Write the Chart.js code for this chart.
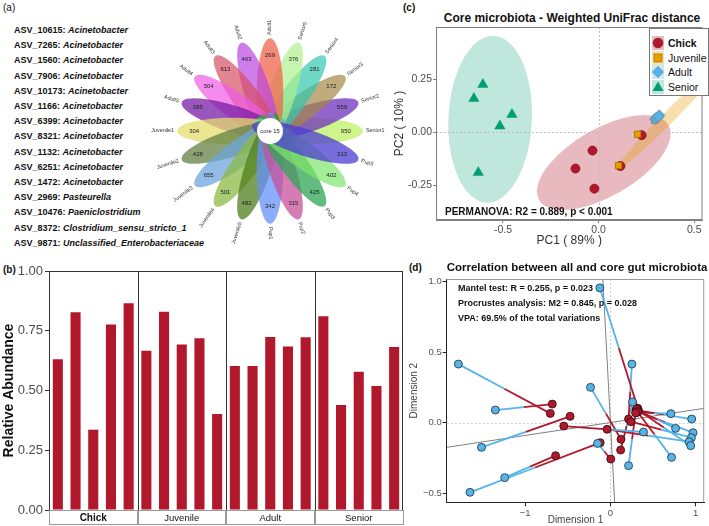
<!DOCTYPE html>
<html lang="en">
<head>
<meta charset="UTF-8">
<title>Core gut microbiota</title>
<script src="https://cdn.jsdelivr.net/npm/chart.js"></script>
<style>
  body { margin: 0; background: #fff; font-family: "Liberation Sans", Arial, sans-serif; }
  #page { position: relative; width: 709px; height: 526px; overflow: hidden; background: #fff; }
  .box { position: absolute; }
  .tag { position: absolute; font-size: 10px; color: #111; line-height: 12px; }
  #asv { position: absolute; left: 14px; top: 23px; font-size: 9px; font-weight: bold; line-height: 15.2px; color: #111; white-space: nowrap; }
  .ptitle { position: absolute; font-weight: bold; color: #111; white-space: nowrap; text-align: center; }
  .note { position: absolute; font-weight: bold; color: #111; white-space: nowrap; }
</style>
</head>
<body>
<div id="page">
  <div class="tag" style="left:3px;top:2px;">(a)</div>
  <div class="tag" style="left:3px;top:264px;font-weight:bold;">(b)</div>
  <div class="tag" style="left:403px;top:2px;font-weight:bold;">(c)</div>
  <div class="tag" style="left:409px;top:262px;font-weight:bold;">(d)</div>

  <div id="asv"></div>

  <div class="box" style="left:140px;top:1px;width:260px;height:260px;"><canvas id="flower" width="260" height="260"></canvas></div>
  <div class="box" style="left:0;top:255px;width:405px;height:271px;"><canvas id="bars" width="405" height="271"></canvas></div>

  <div class="ptitle" style="left:430px;top:11px;width:284px;font-size:12px;">Core microbiota - Weighted UniFrac distance</div>
  <div class="box" style="left:390px;top:0;width:319px;height:250px;"><canvas id="pcoa" width="319" height="250"></canvas></div>
  <svg class="box" style="left:649px;top:28px;" width="60" height="68">
    <rect x="0.5" y="0.5" width="59" height="67" fill="#fff" stroke="#777" stroke-width="1"/>
    <rect x="3" y="8" width="12" height="14" fill="rgba(178,24,43,0.3)"/>
    <circle cx="9" cy="15" r="4.8" fill="#b2182b" stroke="#8a0f1f" stroke-width="0.8"/>
    <text x="19" y="18.5" font-size="10.5" font-weight="bold" fill="#111">Chick</text>
    <rect x="3" y="23" width="12" height="14" fill="rgba(230,159,0,0.3)"/>
    <rect x="5" y="26" width="8" height="8" fill="#e69f00" stroke="#a86f00" stroke-width="0.8"/>
    <text x="19" y="33.5" font-size="10.5" fill="#111">Juvenile</text>
    <rect x="3" y="37" width="12" height="14" fill="rgba(86,180,233,0.3)"/>
    <polygon points="9,38.5 14.5,44 9,49.5 3.5,44" fill="#56b4e9" stroke="#4a8fb8" stroke-width="0.8"/>
    <text x="19" y="47.5" font-size="10.5" fill="#111">Adult</text>
    <rect x="3" y="52" width="12" height="14" fill="rgba(0,158,115,0.25)"/>
    <polygon points="9,53.5 14.5,63 3.5,63" fill="#009e73"/>
    <text x="19" y="62.5" font-size="10.5" fill="#111">Senior</text>
  </svg>
  <div class="note" style="left:445px;top:206px;font-size:10px;">PERMANOVA: R2 = 0.889, p &lt; 0.001</div>

  <div class="ptitle" style="left:440px;top:261px;width:274px;font-size:11.5px;">Correlation between all and core gut microbiota</div>
  <div class="box" style="left:400px;top:255px;width:309px;height:271px;"><canvas id="procrustes" width="309" height="271"></canvas></div>
  <div class="note" style="left:458px;top:283px;font-size:9px;">Mantel test: R = 0.255, p = 0.023</div>
  <div class="note" style="left:458px;top:298px;font-size:9px;">Procrustes analysis: M2 = 0.845, p = 0.028</div>
  <div class="note" style="left:458px;top:313px;font-size:9px;">VPA: 69.5% of the total variations</div>
</div>

<script>
// ---- (a) core ASVs and flower plot ----
const asvIds = ['ASV_10615', 'ASV_7265', 'ASV_1560', 'ASV_7906', 'ASV_10173', 'ASV_1166', 'ASV_6399', 'ASV_8321',
                'ASV_1132', 'ASV_6251', 'ASV_1472', 'ASV_2969', 'ASV_10476', 'ASV_8372', 'ASV_9871'];
const asvGenus = ['Acinetobacter', 'Acinetobacter', 'Acinetobacter', 'Acinetobacter', 'Acinetobacter', 'Acinetobacter',
                  'Acinetobacter', 'Acinetobacter', 'Acinetobacter', 'Acinetobacter', 'Acinetobacter', 'Pasteurella',
                  'Paeniclostridium', 'Clostridium_sensu_stricto_1', 'Unclassified_Enterobacteriaceae'];

const flowerSamples = ['Senior1', 'Senior2', 'Senior3', 'Senior4', 'Senior5', 'Adult1', 'Adult2', 'Adult3', 'Adult4', 'Adult5',
                       'Juvenile1', 'Juvenile2', 'Juvenile3', 'Juvenile4', 'Juvenile5', 'Pup1', 'Pup2', 'Pup3', 'Pup4', 'Pup5'];
const flowerCounts = [950, 559, 172, 281, 376, 269, 463, 613, 504, 385, 304, 428, 655, 501, 482, 342, 315, 425, 402, 313];
const coreCount = 15;
const petalColors = ['rgba(190,240,100,0.75)', 'rgba(110,50,190,0.75)', 'rgba(165,135,70,0.7)', 'rgba(50,200,175,0.7)',
                     'rgba(175,240,140,0.7)', 'rgba(240,100,75,0.75)', 'rgba(185,70,225,0.7)', 'rgba(215,80,100,0.7)',
                     'rgba(240,90,230,0.7)', 'rgba(120,30,165,0.75)', 'rgba(230,220,110,0.75)', 'rgba(100,130,70,0.75)',
                     'rgba(110,165,220,0.75)', 'rgba(140,185,70,0.75)', 'rgba(80,125,30,0.75)', 'rgba(100,145,250,0.75)',
                     'rgba(200,80,155,0.75)', 'rgba(45,165,85,0.75)', 'rgba(125,230,105,0.7)', 'rgba(75,60,210,0.75)'];

// ---- (b) relative abundance of core ASVs ----
const stageGroups = ['Chick', 'Juvenile', 'Adult', 'Senior'];
const chickAbund = [0.631, 0.827, 0.336, 0.776, 0.865];
const juvenileAbund = [0.666, 0.829, 0.692, 0.719, 0.402];
const adultAbund = [0.603, 0.602, 0.724, 0.684, 0.723];
const seniorAbund = [0.811, 0.439, 0.578, 0.519, 0.682];
const abundTicks = [0, 0.25, 0.5, 0.75, 1];

// ---- (c) PCoA ----
const chickPC = [[-0.121, -0.171], [-0.032, -0.086], [-0.022, -0.266], [0.114, -0.159], [0.225, -0.013]];
const juvenilePC = [[0.104, -0.157], [0.204, -0.009], [0.293, 0.058], [0.300, 0.065], [0.305, 0.070]];
const adultPC = [[0.295, 0.062], [0.300, 0.068], [0.310, 0.072], [0.318, 0.080], [0.313, 0.077]];
const seniorPC = [[-0.605, 0.226], [-0.652, 0.160], [-0.453, 0.085], [-0.516, 0.030], [-0.629, -0.190]];
// ellipse: centre, end of the long axis, short/long ratio
const chickEllipse = [[0.027, -0.142], [0.365, 0.035], 0.45];
const juvenileEllipse = [[0.37, 0.075], [0.65, 0.33], 0.08];
const adultEllipse = [[0.31, 0.07], [0.335, 0.085], 0.6];
const seniorEllipse = [[-0.567, 0.062], [-0.548, 0.456], 0.5];
const pc1Ticks = [-0.5, 0, 0.5];
const pc2Ticks = [-0.25, 0, 0.25];

// ---- (d) Procrustes ----
const allConfig = [[-0.705, 0.066], [-0.682, 0.132], [-0.473, 0.045], [-0.643, -0.234], [-0.120, -0.142],
                   [-0.547, -0.024], [0.322, 0.102], [0.213, 0.026], [0.124, -0.118], [0.314, 0.073],
                   [0.300, 0.090], [0.330, 0.085], [0.305, 0.080], [0.240, 0.007], [-0.039, -0.047],
                   [0.310, 0.095], [0.318, 0.078], [0.120, -0.194], [0.004, -0.258], [0.295, 0.070]];
const coreConfig = [[-1.783, 0.416], [-1.349, 0.090], [-1.512, -0.175], [-1.240, -0.390], [-1.647, -0.494],
                    [0.388, -0.066], [-0.124, 0.957], [0.252, 0.416], [-0.233, 0.251], [0.709, 0.064],
                    [0.953, 0.026], [0.764, -0.040], [0.969, -0.071], [0.950, -0.106], [0.922, -0.135],
                    [0.942, -0.163], [0.717, -0.246], [0.260, 0.147], [-0.151, -0.147], [0.213, -0.305]];
const rotationAxes = [[[-0.089, 1.02], [0.05, -0.565]], [[-1.92, -0.175], [1.10, 0.102]]];
const dim1Ticks = [-1, 0, 1];
const dim2Ticks = [-0.5, 0, 0.5, 1];

const FONT = '"Liberation Sans", Arial, sans-serif';
Chart.defaults.font.family = FONT;
Chart.defaults.animation = false;
Chart.defaults.plugins.legend.display = false;
Chart.defaults.plugins.tooltip.enabled = false;

document.getElementById('asv').innerHTML = asvIds.map((id, i) => id + ': <i>' + asvGenus[i] + '</i>').join('<br>');

const pts = arr => arr.map(p => ({ x: p[0], y: p[1] }));
const fixedTicks = list => s => { s.ticks = list.map(v => ({ value: v })); };

// flower: petals placed through the chart's own x/y scales
const flowerPlugin = {
  id: 'flower',
  afterDatasetsDraw(chart) {
    const { ctx, scales: { x, y } } = chart;
    const unit = x.getPixelForValue(1) - x.getPixelForValue(0);
    const n = flowerSamples.length;
    const at = (r, th) => [x.getPixelForValue(r * Math.cos(th)), y.getPixelForValue(r * Math.sin(th))];
    ctx.save();
    flowerSamples.forEach((s, i) => {
      const th = i * 2 * Math.PI / n;
      const [cx, cy] = at(1.2, th);
      ctx.fillStyle = petalColors[i];
      ctx.beginPath();
      ctx.ellipse(cx, cy, 1.8 * unit, 0.43 * unit, -th, 0, 2 * Math.PI);
      ctx.fill();
    });
    ctx.fillStyle = '#fff';
    ctx.beginPath();
    ctx.arc(x.getPixelForValue(0), y.getPixelForValue(0), 0.42 * unit, 0, 2 * Math.PI);
    ctx.fill();
    ctx.fillStyle = '#222';
    ctx.textAlign = 'center';
    ctx.textBaseline = 'middle';
    ctx.font = '5.8px ' + FONT;
    ctx.fillText('core ' + coreCount, x.getPixelForValue(0), y.getPixelForValue(0));
    ctx.font = '6px ' + FONT;
    flowerCounts.forEach((c, i) => {
      const [px, py] = at(2.45, i * 2 * Math.PI / n);
      ctx.fillText(String(c), px, py);
    });
    ctx.font = '5.4px ' + FONT;
    ctx.fillStyle = '#333';
    flowerSamples.forEach((s, i) => {
      let deg = i * 360 / n;
      if (deg > 180) deg -= 360;
      const th = deg * Math.PI / 180;
      const [px, py] = at(3.1, th);
      ctx.save();
      ctx.translate(px, py);
      if (deg > -90 - 1e-6 && deg <= 90 + 1e-6) {
        ctx.rotate(-th);
        ctx.textAlign = 'left';
      } else {
        ctx.rotate(Math.PI - th);
        ctx.textAlign = 'right';
      }
      ctx.fillText(s, 0, 0);
      ctx.restore();
    });
    ctx.restore();
  }
};

new Chart(document.getElementById('flower'), {
  type: 'scatter',
  data: { datasets: [] },
  options: {
    responsive: false, devicePixelRatio: 1, events: [],
    layout: { padding: 0 },
    scales: { x: { display: false, min: -4.2, max: 4.2 }, y: { display: false, min: -4.2, max: 4.2 } }
  },
  plugins: [flowerPlugin]
});

// ---- bar chart with facet strips ----
const groupAbund = [chickAbund, juvenileAbund, adultAbund, seniorAbund];
const barLabels = stageGroups.flatMap((g, gi) => groupAbund[gi].map((v, k) => g + (k + 1)));
const barValues = groupAbund.flat();

const facetPlugin = {
  id: 'facets',
  afterDraw(chart) {
    const { ctx, chartArea: a, scales: { x } } = chart;
    const step = x.getPixelForValue(1) - x.getPixelForValue(0);
    ctx.save();
    ctx.strokeStyle = '#333';
    ctx.lineWidth = 1;
    ctx.strokeRect(a.left + 0.5, a.top + 0.5, a.width - 1, a.height);
    let start = 0;
    stageGroups.forEach((g, gi) => {
      const n = groupAbund[gi].length;
      const x0 = x.getPixelForValue(start) - step / 2;
      const x1 = x.getPixelForValue(start + n - 1) + step / 2;
      if (gi > 0) {
        ctx.strokeStyle = '#333';
        ctx.beginPath(); ctx.moveTo(Math.round(x0) + 0.5, a.top); ctx.lineTo(Math.round(x0) + 0.5, a.bottom); ctx.stroke();
      }
      ctx.strokeStyle = '#999';
      ctx.strokeRect(Math.round(x0) + 0.5, a.bottom + 0.5, Math.round(x1 - x0) - 1, 14);
      ctx.fillStyle = '#111';
      ctx.font = (gi === 0 ? 'bold 10px ' : '9.5px ') + FONT;
      ctx.textAlign = 'center';
      ctx.textBaseline = 'middle';
      ctx.fillText(g, (x0 + x1) / 2, a.bottom + 8);
      start += n;
    });
    ctx.restore();
  }
};

new Chart(document.getElementById('bars'), {
  type: 'bar',
  data: {
    labels: barLabels,
    datasets: [{ data: barValues, backgroundColor: '#b2182b', barPercentage: 0.57, categoryPercentage: 1 }]
  },
  options: {
    responsive: false, devicePixelRatio: 1, events: [],
    layout: { padding: { top: 16, right: 2, left: 0, bottom: 0 } },
    scales: {
      x: {
        offset: true,
        grid: { display: false }, border: { display: false }, ticks: { display: false },
        afterFit: s => { s.height = 16; }
      },
      y: {
        min: 0, max: 1,
        afterBuildTicks: fixedTicks(abundTicks),
        ticks: { callback: v => v.toFixed(2), font: { size: 13 }, color: '#4d4d4d', padding: 2 },
        grid: { drawOnChartArea: false, tickLength: 4, tickColor: '#333' },
        border: { color: '#333' },
        title: { display: true, text: 'Relative Abundance', font: { size: 14, weight: 'bold' }, color: '#111', padding: { top: 1, bottom: 0 } },
        afterFit: s => { s.width = 49; }
      }
    }
  },
  plugins: [facetPlugin]
});

// ---- PCoA with group ellipses ----
const ellipses = [
  { e: chickEllipse, fill: 'rgba(178,24,43,0.3)' },
  { e: juvenileEllipse, fill: 'rgba(230,159,0,0.32)' },
  { e: adultEllipse, fill: 'rgba(86,180,233,0.35)' },
  { e: seniorEllipse, fill: 'rgba(0,158,115,0.25)' }
];

const pcoaPlugin = {
  id: 'pcoaDecor',
  beforeDatasetsDraw(chart) {
    const { ctx, chartArea: a, scales: { x, y } } = chart;
    ctx.save();
    ctx.beginPath(); ctx.rect(a.left, a.top, a.width, a.height); ctx.clip();
    ellipses.forEach(({ e, fill }) => {
      const cx = x.getPixelForValue(e[0][0]), cy = y.getPixelForValue(e[0][1]);
      const ex = x.getPixelForValue(e[1][0]), ey = y.getPixelForValue(e[1][1]);
      const r = Math.hypot(ex - cx, ey - cy);
      ctx.fillStyle = fill;
      ctx.beginPath();
      ctx.ellipse(cx, cy, r, r * e[2], Math.atan2(ey - cy, ex - cx), 0, 2 * Math.PI);
      ctx.fill();
    });
    const x0 = Math.round(x.getPixelForValue(0)) + 0.5, y0 = Math.round(y.getPixelForValue(0)) + 0.5;
    ctx.strokeStyle = '#bdbdbd';
    ctx.setLineDash([2, 2]);
    ctx.lineWidth = 1;
    ctx.beginPath();
    ctx.moveTo(x0, a.top); ctx.lineTo(x0, a.bottom);
    ctx.moveTo(a.left, y0); ctx.lineTo(a.right, y0);
    ctx.stroke();
    ctx.restore();
  },
  afterDraw(chart) {
    const { ctx, chartArea: a } = chart;
    ctx.save();
    ctx.strokeStyle = '#7f7f7f';
    ctx.lineWidth = 1;
    ctx.strokeRect(a.left + 0.5, a.top + 0.5, a.width - 1, a.height - 1);
    ctx.restore();
  }
};

new Chart(document.getElementById('pcoa'), {
  type: 'scatter',
  data: {
    datasets: [
      { label: 'Adult', data: pts(adultPC), pointStyle: 'rectRot', pointRadius: 5.5, backgroundColor: '#56b4e9', borderColor: '#6d8fa3', borderWidth: 0.8 },
      { label: 'Juvenile', data: pts(juvenilePC), pointStyle: 'rect', pointRadius: 4.5, backgroundColor: '#e69f00', borderColor: '#a86f00', borderWidth: 0.8 },
      { label: 'Chick', data: pts(chickPC), pointStyle: 'circle', pointRadius: 4.5, backgroundColor: '#b2182b', borderColor: '#8a0f1f', borderWidth: 0.8 },
      { label: 'Senior', data: pts(seniorPC), pointStyle: 'triangle', pointRadius: 6, backgroundColor: '#009e73', borderColor: '#009e73', borderWidth: 0.5 }
    ]
  },
  options: {
    responsive: false, devicePixelRatio: 1, events: [],
    layout: { padding: { top: 27, right: 1, left: 0, bottom: 0 } },
    scales: {
      x: {
        min: -0.85, max: 0.543,
        afterBuildTicks: fixedTicks(pc1Ticks),
        ticks: { callback: v => v.toFixed(1), font: { size: 10.5 }, color: '#4d4d4d', padding: 1 },
        grid: { drawOnChartArea: false, tickLength: 3, tickColor: '#7f7f7f' },
        border: { color: '#7f7f7f' },
        title: { display: true, text: 'PC1 ( 89% )', font: { size: 12 }, color: '#333', padding: { top: 0, bottom: 2 } },
        afterFit: s => { s.height = 30; s.paddingLeft = 0; s.paddingRight = 0; }
      },
      y: {
        min: -0.414, max: 0.498,
        afterBuildTicks: fixedTicks(pc2Ticks),
        ticks: { callback: v => v.toFixed(2), font: { size: 10.5 }, color: '#4d4d4d', padding: 1 },
        grid: { drawOnChartArea: false, tickLength: 3, tickColor: '#7f7f7f' },
        border: { color: '#7f7f7f' },
        title: { display: true, text: 'PC2 ( 10% )', font: { size: 12 }, color: '#333', padding: { top: 2, bottom: 0 } },
        afterFit: s => { s.width = 46; s.paddingTop = 0; s.paddingBottom = 0; }
      }
    }
  },
  plugins: [pcoaPlugin]
});

// ---- Procrustes plot ----
const RED = '#b2182b', BLUE = '#56b4e9';
const pairSets = allConfig.map((r, i) => {
  const b = coreConfig[i];
  const mid = [(r[0] + b[0]) / 2, (r[1] + b[1]) / 2];
  return {
    type: 'line', data: pts([r, mid, b]), borderWidth: 1.8, pointRadius: 0, fill: false, order: 2,
    segment: { borderColor: c => (c.p0DataIndex === 0 ? RED : BLUE) }, borderColor: RED
  };
});
const axisSets = rotationAxes.map(l => ({
  type: 'line', data: pts(l), borderColor: '#808080', borderWidth: 1, pointRadius: 0, fill: false, order: 3
}));

const procPlugin = {
  id: 'procDecor',
  beforeDatasetsDraw(chart) {
    const { ctx, chartArea: a, scales: { x, y } } = chart;
    ctx.save();
    const x0 = Math.round(x.getPixelForValue(0)) + 0.5, y0 = Math.round(y.getPixelForValue(0)) + 0.5;
    ctx.strokeStyle = '#d0d0d0';
    ctx.setLineDash([2, 2]);
    ctx.beginPath();
    ctx.moveTo(x0, a.top); ctx.lineTo(x0, a.bottom);
    ctx.moveTo(a.left, y0); ctx.lineTo(a.right, y0);
    ctx.stroke();
    ctx.restore();
  },
  afterDraw(chart) {
    const { ctx, chartArea: a } = chart;
    ctx.save();
    ctx.strokeStyle = '#9a9a9a';
    ctx.lineWidth = 1;
    ctx.beginPath();
    ctx.moveTo(a.left, a.top + 0.5); ctx.lineTo(a.right - 0.5, a.top + 0.5); ctx.lineTo(a.right - 0.5, a.bottom);
    ctx.stroke();
    ctx.restore();
  }
};

new Chart(document.getElementById('procrustes'), {
  type: 'scatter',
  data: {
    datasets: [
      { data: pts(coreConfig), backgroundColor: BLUE, borderColor: '#1f2f3a', borderWidth: 0.8, pointRadius: 4, order: 0 },
      { data: pts(allConfig), backgroundColor: RED, borderColor: '#2a0a0f', borderWidth: 0.8, pointRadius: 4, order: 1 },
      ...pairSets,
      ...axisSets
    ]
  },
  options: {
    responsive: false, devicePixelRatio: 1, events: [],
    layout: { padding: { top: 24, right: 3, left: 6, bottom: 0 } },
    scales: {
      x: {
        min: -1.92, max: 1.10,
        afterBuildTicks: fixedTicks(dim1Ticks),
        ticks: { callback: v => (v < 0 ? '\u2212' + Math.abs(v) : String(v)), font: { size: 9.5 }, color: '#555', padding: 1 },
        grid: { drawOnChartArea: false, tickLength: 4, tickColor: '#222' },
        border: { color: '#222' },
        title: { display: true, text: 'Dimension 1', font: { size: 10 }, color: '#444', padding: { top: 0, bottom: 0 } },
        afterFit: s => { s.height = 23.7; s.paddingLeft = 0; s.paddingRight = 0; }
      },
      y: {
        min: -0.565, max: 1.02,
        afterBuildTicks: fixedTicks(dim2Ticks),
        ticks: { callback: v => (v < 0 ? '\u2212' + Math.abs(v).toFixed(1) : v.toFixed(1)), font: { size: 9.5 }, color: '#555', padding: 1 },
        grid: { drawOnChartArea: false, tickLength: 4, tickColor: '#222' },
        border: { color: '#222' },
        title: { display: true, text: 'Dimension 2', font: { size: 10 }, color: '#444', padding: { top: 2, bottom: 0 } },
        afterFit: s => { s.width = 40.7; s.paddingTop = 0; s.paddingBottom = 0; }
      }
    }
  },
  plugins: [procPlugin]
});
</script>
</body>
</html>
